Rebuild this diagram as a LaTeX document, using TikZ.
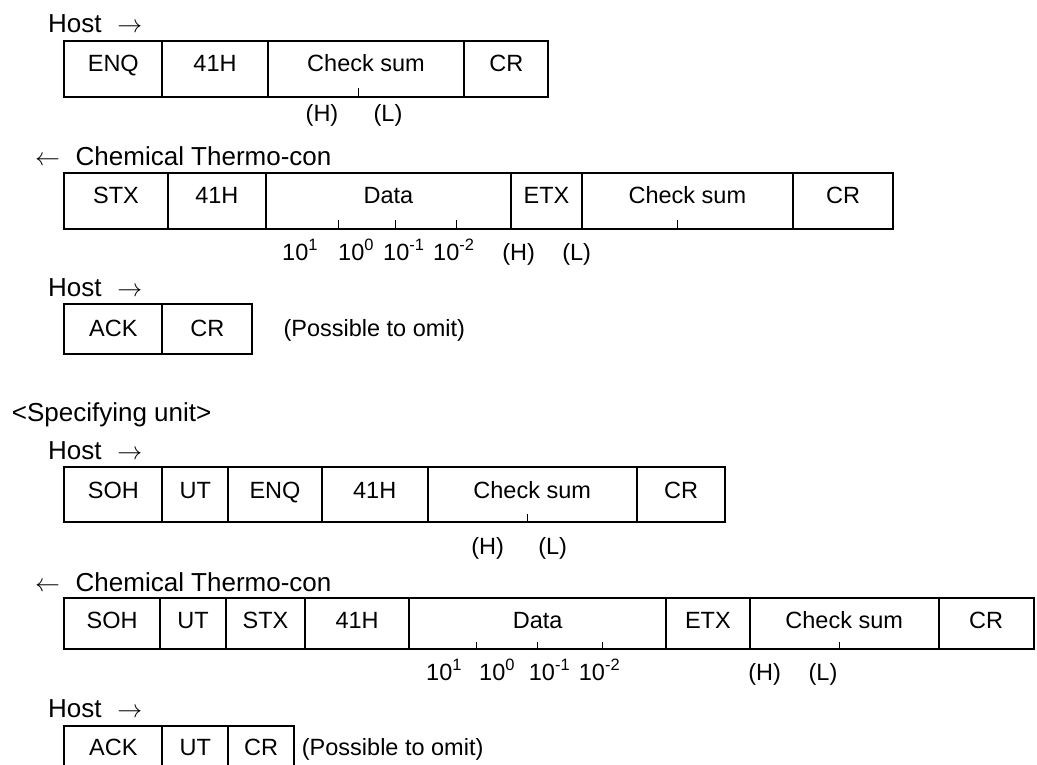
\documentclass[tikz,border=0pt]{standalone}
\usepackage{fontspec}
\setmainfont{Liberation Sans}
\tikzset{
  boxline/.style={line width=1.8pt},
  tickline/.style={line width=1pt},
  txt/.style={inner sep=0pt, font=\fontsize{23.5}{28}\selectfont},
  head/.style={inner sep=0pt, anchor=base west, font=\fontsize{26}{31}\selectfont},
}
% name, x1, x2, top, bottom, baseline, text
\newcommand\mycell[7]{%
  \draw[boxline] (#2,#4) rectangle (#3,#5);
  \node[txt, anchor=base] (#1) at ({(#2+#3)/2},#6) {#7};
}
\newcommand\mytick[3]{\draw[tickline] (#1,#2) -- (#1,#3);}
\begin{document}
\begin{tikzpicture}[x=1pt,y=-1pt]
\useasboundingbox (0,0) rectangle (1037,764);
\clip (0,0) rectangle (1037,764);

% ---------- Block 1 ----------
\node[head] (h1) at (48,32.3) {Host\hspace{0.6em}$\rightarrow$};
\mycell{a1}{64.3}{162.3}{40.7}{96.7}{71.7}{ENQ}
\mycell{a2}{162.3}{267.7}{40.7}{96.7}{71.7}{41H}
\mycell{a3}{267.7}{464.3}{40.7}{96.7}{71.7}{Check sum}
\mycell{a4}{464.3}{548.3}{40.7}{96.7}{71.7}{CR}
\mytick{358.7}{88}{96.7}
\node[txt, anchor=base] (a3h) at (322,121) {(H)};
\node[txt, anchor=base] (a3l) at (388,121) {(L)};

% ---------- Block 2 ----------
\node[head] (c1) at (35,165) {$\leftarrow$\hspace{0.6em}Chemical Thermo-con};
\mycell{b1}{64.3}{167.7}{172.7}{229}{203.3}{STX}
\mycell{b2}{167.7}{266}{172.7}{229}{203.3}{41H}
\mycell{b3}{266}{511}{172.7}{229}{203.3}{Data}
\mycell{b4}{511}{582}{172.7}{229}{203.3}{ETX}
\mycell{b5}{582}{792.7}{172.7}{229}{203.3}{Check sum}
\mycell{b6}{792.7}{893.3}{172.7}{229}{203.3}{CR}
\mytick{338}{220}{229}
\mytick{395.3}{220}{229}
\mytick{456}{220}{229}
\mytick{677}{220}{229}
\node[txt, anchor=base west] (b3e1) at (282,260) {10\textsuperscript{1}};
\node[txt, anchor=base west] (b3e0) at (338,260) {10\textsuperscript{0}};
\node[txt, anchor=base west] (b3em1) at (383,260) {10\textsuperscript{-1}};
\node[txt, anchor=base west] (b3em2) at (433,260) {10\textsuperscript{-2}};
\node[txt, anchor=base] (b5h) at (518.7,260) {(H)};
\node[txt, anchor=base] (b5l) at (576.7,260) {(L)};

% ---------- Block 3 ----------
\node[head] (h2) at (48,296.7) {Host\hspace{0.6em}$\rightarrow$};
\mycell{d1}{64.3}{162.3}{304.3}{354}{336.7}{ACK}
\mycell{d2}{162.3}{252.3}{304.3}{354}{336.7}{CR}
\node[txt, anchor=base west] (om1) at (283.3,336.7) {(Possible to omit)};

% ---------- Specifying unit ----------
\node[head] (spec) at (11.7,421.7) {<Specifying unit>};

% ---------- Block 4 ----------
\node[head] (h3) at (48,459) {Host\hspace{0.6em}$\rightarrow$};
\mycell{e1}{64.3}{162.3}{467.3}{521.7}{498.3}{SOH}
\mycell{e2}{162.3}{228.3}{467.3}{521.7}{498.3}{UT}
\mycell{e3}{228.3}{321.7}{467.3}{521.7}{498.3}{ENQ}
\mycell{e4}{321.7}{427.7}{467.3}{521.7}{498.3}{41H}
\mycell{e5}{427.7}{636.7}{467.3}{521.7}{498.3}{Check sum}
\mycell{e6}{636.7}{725.3}{467.3}{521.7}{498.3}{CR}
\mytick{527.7}{514}{521.7}
\node[txt, anchor=base] (e5h) at (487.7,554) {(H)};
\node[txt, anchor=base] (e5l) at (552.7,554) {(L)};

% ---------- Block 5 ----------
\node[head] (c2) at (35,591.7) {$\leftarrow$\hspace{0.6em}Chemical Thermo-con};
\mycell{f1}{64.3}{160}{598.3}{649.3}{628.3}{SOH}
\mycell{f2}{160}{226}{598.3}{649.3}{628.3}{UT}
\mycell{f3}{226}{305}{598.3}{649.3}{628.3}{STX}
\mycell{f4}{305}{409.3}{598.3}{649.3}{628.3}{41H}
\mycell{f5}{409.3}{666}{598.3}{649.3}{628.3}{Data}
\mycell{f6}{666}{749.7}{598.3}{649.3}{628.3}{ETX}
\mycell{f7}{749.7}{938.7}{598.3}{649.3}{628.3}{Check sum}
\mycell{f8}{938.7}{1033.7}{598.3}{649.3}{628.3}{CR}
\mytick{476}{641.7}{649.3}
\mytick{537}{641.7}{649.3}
\mytick{602.3}{641.7}{649.3}
\mytick{839}{641.7}{649.3}
\node[txt, anchor=base west] (f5e1) at (426,680) {10\textsuperscript{1}};
\node[txt, anchor=base west] (f5e0) at (479,680) {10\textsuperscript{0}};
\node[txt, anchor=base west] (f5em1) at (528.7,680) {10\textsuperscript{-1}};
\node[txt, anchor=base west] (f5em2) at (578.7,680) {10\textsuperscript{-2}};
\node[txt, anchor=base] (f7h) at (764.7,680) {(H)};
\node[txt, anchor=base] (f7l) at (823,680) {(L)};

% ---------- Block 6 ----------
\node[head] (h4) at (48,717.3) {Host\hspace{0.6em}$\rightarrow$};
\mycell{g1}{64.3}{162.3}{726}{790}{755}{ACK}
\mycell{g2}{162.3}{228.3}{726}{790}{755}{UT}
\mycell{g3}{228.3}{294}{726}{790}{755}{CR}
\node[txt, anchor=base west] (om2) at (301.7,755) {(Possible to omit)};
\end{tikzpicture}
\end{document}
